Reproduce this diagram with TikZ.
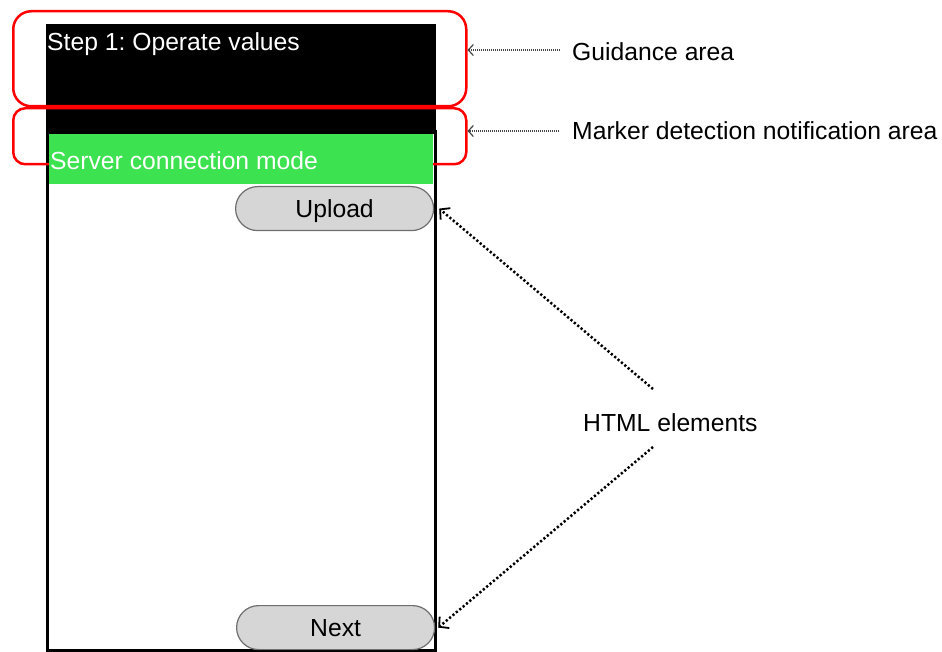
\documentclass[tikz,border=0pt]{standalone}
\usepackage{fontspec}
\setmainfont{Liberation Sans}
\usetikzlibrary{arrows.meta}
\frenchspacing
\definecolor{scrgreen}{HTML}{3DE250}
\definecolor{btnfill}{HTML}{D6D6D6}
\definecolor{btnedge}{HTML}{6E6E6E}
\definecolor{guidegray}{HTML}{454545}
\tikzset{
  lbl/.style={font=\fontsize{24.7}{29}\selectfont, inner sep=0pt, anchor=base west},
  redbox/.style={draw=red, line width=2.5pt, anchor=north west, inner sep=0pt},
  btn/.style={draw=btnedge, fill=btnfill, line width=1.2pt, rounded corners=22pt, anchor=north west, inner sep=0pt,
     minimum width=198pt, minimum height=44pt, text height=18pt, text depth=1pt, font=\fontsize{24.7}{29}\selectfont},
  guidearrow/.style={draw=guidegray, line width=1.3pt, dash pattern=on 1pt off 1pt, -{Straight Barb[length=5pt,width=11pt,line width=1.2pt]}},
  htmlarrow/.style={draw=black, line width=2.5pt, dash pattern=on 2.2pt off 2.2pt, -{Straight Barb[length=7pt,width=15pt,line width=1.8pt]}}
}
\begin{document}
\begin{tikzpicture}[x=1pt,y=-1pt]
\useasboundingbox (0,0) rectangle (942,652);
% phone frame
\node[fill=black, anchor=north west, inner sep=0pt, minimum width=390pt, minimum height=110pt] (topbar) at (46,24) {};
\draw[line width=3pt] (47,130) -- (47,650) -- (435,650) -- (435,130);
% red areas
\node[redbox, rounded corners=18pt, minimum width=453pt, minimum height=95pt] (guidebox) at (12,10) {};
\node[redbox, rounded corners=12pt, minimum width=453pt, minimum height=56pt] (markbox) at (12,107) {};
% green bar
\node[fill=scrgreen, anchor=north west, inner sep=0pt, minimum width=384pt, minimum height=50pt] (greenbar) at (49,134) {};
% texts on screen
\node[lbl, text=white] (steptxt) at (47,51) {Step 1: Operate values};
\node[lbl, text=white] (servtxt) at (50,170) {Server connection mode};
% buttons
\node[btn] (upload) at (235,186) {Upload};
\node[btn] (next) at (236,605) {Next};
% labels
\node[lbl] (guidelbl) at (572,61) {Guidance area};
\node[lbl] (marklbl) at (572,140) {Marker detection notification area};
\node[lbl] (htmllbl) at (583,431) {HTML elements};
% arrows
\coordinate (gstart) at (560,50);
\coordinate (mstart) at (559,131);
\coordinate (hstart1) at (653,389);
\coordinate (hstart2) at (653,447);
\draw[guidearrow] (gstart) -- (guidebox.east |- gstart);
\draw[guidearrow] (mstart) -- (markbox.east |- mstart);
\draw[htmlarrow] (hstart1) -- ([xshift=5pt]upload.east);
\draw[htmlarrow] (hstart2) -- ([xshift=3pt]next.east);
\end{tikzpicture}
\end{document}
